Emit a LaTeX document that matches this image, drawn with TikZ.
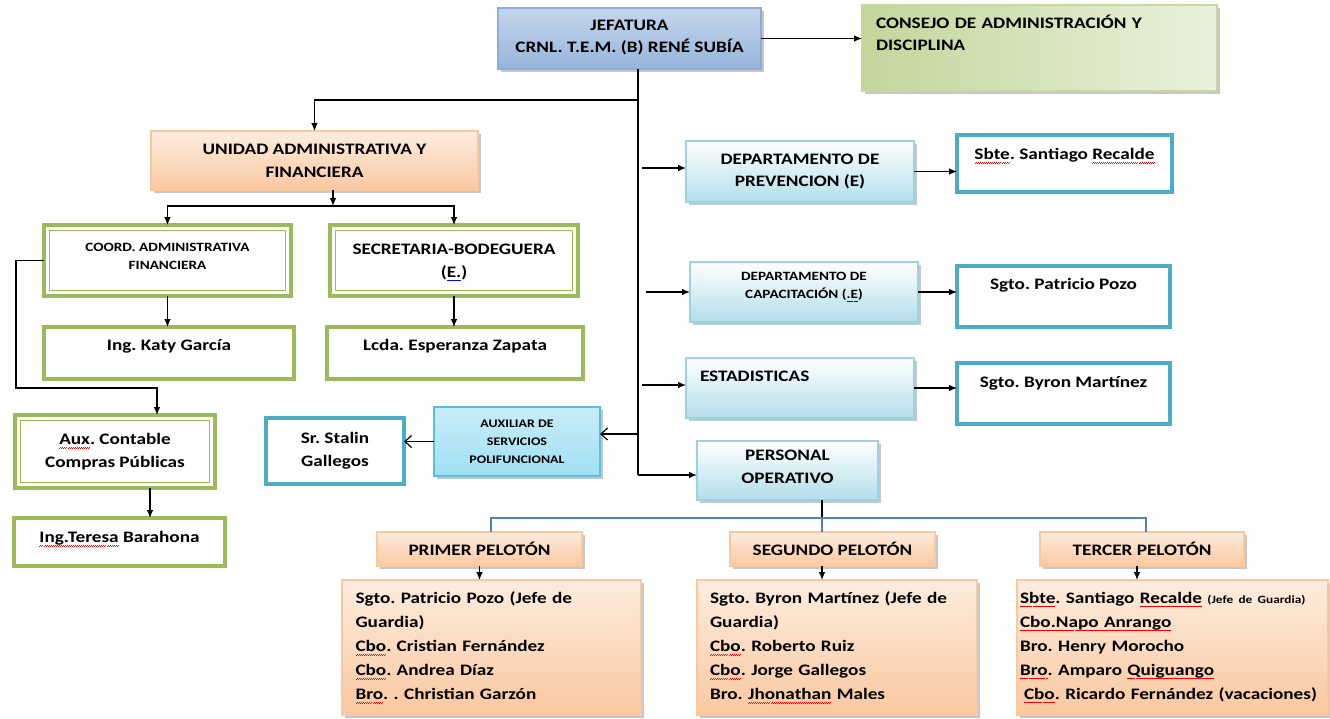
\documentclass[tikz,border=0pt]{standalone}
\usepackage{fontspec}
\setmainfont{Carlito}[FakeStretch=1.2]
\usetikzlibrary{arrows.meta,shadows}
\definecolor{grB}{HTML}{9BBB59}
\definecolor{blB}{HTML}{4BACC6}
\definecolor{lnB}{HTML}{4F81BD}
\definecolor{orB}{HTML}{F9C8A0}
\definecolor{cyB}{HTML}{9CD3E3}
\frenchspacing
\newcommand\wavy[2]{\leavevmode\setbox0\hbox{#2}\rlap{\color{#1}\xleaders\hbox{\rule[-2.9pt]{0.75pt}{0.45pt}\rule[-2.3pt]{0.75pt}{0.45pt}}\hskip\wd0}\box0\relax}
\newcommand\rw[1]{\wavy{red}{#1}}
\newcommand\bw[1]{\wavy{blue}{#1}}
\newcommand\bx[7]{\node[#6, anchor=north west, minimum width={(#4-#2)*0.75pt}, minimum height={(#5-#3)*0.75pt}] (#1) at (#2,#3) {#7};}
\tikzset{
  base/.style={rectangle, inner sep=0pt, outer sep=0pt, font=\bfseries\fontsize{12}{17}\selectfont\frenchspacing, align=center},
  shd/.style={drop shadow={shadow xshift=2pt, shadow yshift=-2pt, fill=black, opacity=0.22}},
  jefbox/.style={base, shd, draw={rgb,255:red,142;green,170;blue,219}, line width=0.8pt, top color={rgb,255:red,198;green,214;blue,236}, bottom color={rgb,255:red,150;green,180;blue,218}},
  conbox/.style={base, shd, draw={rgb,255:red,200;green,215;blue,160}, line width=0.8pt, left color={rgb,255:red,194;green,214;blue,154}, right color={rgb,255:red,234;green,241;blue,221}},
  orbox/.style={base, shd, draw=orB, line width=0.8pt, top color={rgb,255:red,253;green,236;blue,222}, bottom color={rgb,255:red,250;green,200;blue,160}},
  cybox/.style={base, shd, draw=cyB, line width=0.8pt, top color=white, bottom color={rgb,255:red,178;green,222;blue,234}},
  cy2box/.style={base, shd, draw={rgb,255:red,90;green,190;blue,220}, line width=0.8pt, top color={rgb,255:red,200;green,236;blue,248}, bottom color={rgb,255:red,160;green,224;blue,244}},
  grbox/.style={base, draw=grB, line width=3pt, fill=white},
  blbox/.style={base, draw=blB, line width=3pt, fill=white},
  ln/.style={draw=black, line width=0.9pt},
  arr/.style={ln, -{Latex[length=6pt,width=5pt]}},
  oarr/.style={ln, -{Straight Barb[length=5pt,width=9pt]}},
  bl/.style={draw=lnB, line width=0.9pt},
  sm/.style={font=\bfseries\fontsize{9.5}{14}\selectfont},
  lst/.style={align=left, text width={(#1)*0.75pt}, font=\bfseries\fontsize{12}{18}\selectfont\frenchspacing}
}
\begin{document}
\begin{tikzpicture}[x=0.75pt,y=-0.75pt]
\useasboundingbox (0,0) rectangle (1330,718);
% top
\bx{jef}{498}{8}{761}{69}{jefbox, text depth=3.5pt}{JEFATURA\\CRNL. T.E.M. (B) RENÉ SUBÍA}
\bx{con}{862}{5}{1217}{91}{conbox, align=left, text width={327*0.75pt}, text depth=40pt}{CONSEJO DE ADMINISTRACIÓN Y\\DISCIPLINA}
% left branch
\bx{uni}{151}{131}{478}{190}{orbox}{UNIDAD ADMINISTRATIVA Y\\FINANCIERA}
\bx{coo}{44}{225}{291}{296}{grbox, sm, text depth=6pt}{COORD. ADMINISTRATIVA\\FINANCIERA}
\bx{sec}{330}{225}{578}{296}{grbox, text depth=0pt}{SECRETARIA-BODEGUERA\\(\bw{E.})}
\bx{kat}{44}{327}{294}{379}{grbox, text depth=12pt}{Ing. Katy García}
\bx{lcd}{327}{327}{583}{379}{grbox, text depth=12pt}{Lcda. Esperanza Zapata}
\bx{aux}{15}{415}{215}{488}{grbox}{\rw{Aux}. Contable\\Compras Públicas}
\bx{ter}{14}{518}{225}{566}{grbox, text depth=7.5pt}{\rw{Ing.Teresa} Barahona}
\foreach \n in {coo,sec,aux}{
  \draw[grB, line width=0.6pt] ([shift={(4.2pt,-4.2pt)}]\n.north west) rectangle ([shift={(-4.2pt,4.2pt)}]\n.south east);
}
% middle
\bx{sta}{266}{418}{404}{484}{blbox}{Sr. Stalin\\Gallegos}
\bx{axs}{434}{407}{600}{476}{cy2box, font=\bfseries\fontsize{8.7}{13.5}\selectfont}{AUXILIAR DE\\SERVICIOS\\POLIFUNCIONAL}
% right branch
\bx{prv}{686}{141}{914}{202}{cybox}{DEPARTAMENTO DE\\PREVENCION (E)}
\bx{sbt}{957}{135}{1172}{192}{blbox, text depth=14.5pt}{\rw{Sbte}. Santiago \rw{Recalde}}
\bx{cap}{690}{262}{918}{322}{cybox, font=\bfseries\fontsize{9.5}{13}\selectfont, text depth=10pt}{DEPARTAMENTO DE\\CAPACITACIÓN (\bw{.E})}
\bx{pat}{957}{266}{1170}{327}{blbox, text depth=18.5pt}{Sgto. Patricio Pozo}
\bx{est}{686}{358}{914}{418}{cybox, align=left, text width={200*0.75pt}, text depth=18pt}{ESTADISTICAS}
\bx{byr}{957}{363}{1170}{424}{blbox, text depth=17.5pt}{Sgto. Byron Martínez}
\bx{per}{697}{441}{878}{500}{cybox, text depth=6pt}{PERSONAL\\OPERATIVO}
% platoons
\bx{p1}{377}{532}{582}{566}{orbox}{PRIMER PELOTÓN}
\bx{p2}{730}{532}{935}{566}{orbox}{SEGUNDO PELOTÓN}
\bx{p3}{1040}{532}{1244}{566}{orbox}{TERCER PELOTÓN}
\bx{l1}{342}{580}{641}{715}{orbox, lst=272}{Sgto. Patricio Pozo (Jefe de\\Guardia)\\\rw{Cbo}. Cristian Fernández\\\rw{Cbo}. Andrea Díaz\\\rw{Bro}. . Christian Garzón}
\bx{l2}{697}{580}{977}{715}{orbox, lst=254}{Sgto. Byron Martínez (Jefe de\\Guardia)\\\rw{Cbo}. Roberto Ruiz\\\rw{Cbo}. Jorge Gallegos\\Bro. \rw{Jhonathan} Males}
\bx{l3}{1017}{580}{1328}{715}{orbox, lst=305}{\rw{Sbte}. Santiago \rw{Recalde} {\fontsize{8.3}{9}\selectfont(Jefe de Guardia)}\\\rw{Cbo.Napo Anrango}\\Bro. Henry Morocho\\\rw{Bro}. Amparo \rw{Quiguango}\\\hspace*{3pt}\rw{Cbo}. Ricardo Fernández (vacaciones)}
% coordinates
\coordinate (tt) at (638,69);
\coordinate (tb) at (638,475);
\coordinate (tu) at (638,100);
\coordinate (ta) at (638,434);
\coordinate (us) at (333,190);
\coordinate (sp) at (333,206);
\coordinate (lp) at (16,388);
\coordinate (ax) at (157,415);
\coordinate (as) at (150,488);
\coordinate (pd) at (822,500);
\coordinate (h1) at (491,518);
\coordinate (h2) at (822,518);
\coordinate (h3) at (1146,518);
\coordinate (d1) at (642,168);
\coordinate (d2) at (646,292);
\coordinate (d3) at (642,385);
% connectors
\draw[arr] (jef.east) -- (jef.east -| con.west);
\draw[ln] (tt) -- (tb);
\draw[arr] (tb) -- (tb -| per.west);
\draw[arr] (tu) -| (uni.north);
\draw[arr] (us) -- (sp);
\draw[arr] (sp) -| (coo.north);
\draw[arr] (sp) -| (sec.north);
\draw[arr] (coo.south) -- (coo.south |- kat.north);
\draw[arr] (sec.south) -- (sec.south |- lcd.north);
\draw[arr] (coo.west) -- (coo.west -| lp) -- (lp) -| (ax);
\draw[arr] (as) -- (as |- ter.north);
\draw[oarr] (ta) -- (ta -| axs.east);
\draw[oarr] (axs.west) -- (axs.west -| sta.east);
\draw[arr] (d1) -- (d1 -| prv.west);
\draw[arr] (d2) -- (d2 -| cap.west);
\draw[arr] (d3) -- (d3 -| est.west);
\draw[arr] (prv.east) -- (prv.east -| sbt.west);
\draw[arr] (cap.east) -- (cap.east -| pat.west);
\draw[arr] (est.east) -- (est.east -| byr.west);
\draw[ln] (pd) -- (h2);
\draw[bl] (h1 |- p1.north) -- (h1) -- (h3) -- (h3 |- p3.north);
\draw[bl] (h2) -- (h2 |- p2.north);
\draw[arr] (p1.south) -- (p1.south |- l1.north);
\draw[arr] (p2.south -| h2) -- (h2 |- l2.north);
\draw[arr] ([xshift=-3.75pt]p3.south) -- ([xshift=-3.75pt]p3.south |- l3.north);
\end{tikzpicture}
\end{document}
